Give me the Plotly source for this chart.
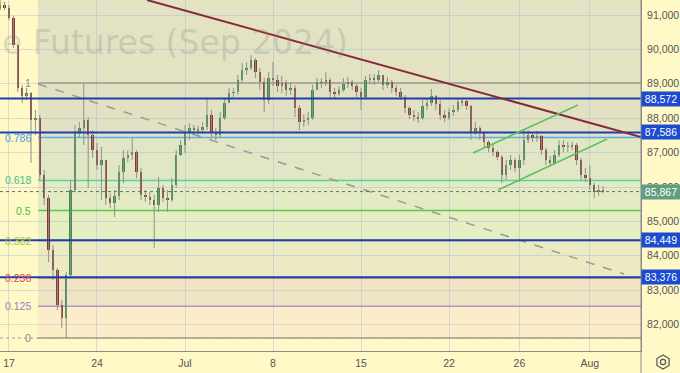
import math
import plotly.graph_objects as go

# ---------------- data ----------------
first_open = 91200
closes = [91290, 91200, 90910, 90130, 88880, 88645, 88735, 87950, 88005, 86350,
          85680, 84170, 83585, 82570, 82190, 83440, 85915, 87600, 87715, 87950,
          87510, 87075, 86640, 86785, 85680, 85535, 85740, 86435, 86845, 86930,
          87015, 86435, 85770, 85710, 85620, 85475, 85970, 85680, 85620, 86060,
          86930, 87220, 87600, 87715, 87655, 87655, 87745, 88095, 87600, 87510,
          88005, 88440, 88735, 88760, 89110, 89400, 89460, 89690, 89345, 89050,
          88530, 89170, 89110, 88935, 89025, 88820, 88880, 88295, 87890, 87950,
          88005, 88820, 89050, 89025, 89110, 88760, 88705, 88820, 88995, 89050,
          88935, 88760, 88615, 89110, 89170, 89110, 89255, 88965, 89050, 88880,
          88760, 88615, 88295, 88095, 88035, 88005, 88355, 88440, 88645, 88415,
          88095, 88005, 88180, 88240, 88470, 88500, 88355, 87600, 87715, 87570,
          87310, 87135, 87015, 86870, 86350, 86640, 86785, 86550, 86785, 87365,
          87510, 87425, 87485, 87075, 86785, 86700, 86930, 87220, 87165, 87165,
          87220, 86785, 86350, 86260, 86060, 85855, 85915, 85867]
highs = [91420, 91380, 91290, 90970, 90130, 88965, 88880, 88760, 88240, 88095,
         86495, 85770, 84315, 83645, 82715, 83530, 86205, 87800, 87890, 89023,
         88035, 87655, 87280, 87165, 86785, 85825, 85915, 86640, 87075, 87075,
         87425, 87075, 86550, 85915, 85855, 85770, 86290, 86060, 85915, 86260,
         87075, 87365, 87800, 87860, 87800, 87775, 87890, 88585, 88240, 87715,
         88180, 88585, 88880, 88880, 89255, 89605, 89635, 89835, 89750, 89460,
         89170, 89345, 89635, 89255, 89225, 89110, 89050, 88965, 88385, 88120,
         88180, 88965, 89170, 89170, 89345, 89170, 88880, 88935, 89170, 89200,
         89110, 88995, 88880, 89225, 89285, 89285, 89400, 89255, 89200, 89110,
         88965, 88880, 88675, 88355, 88240, 88180, 88530, 88585, 88850, 88675,
         88530, 88240, 88295, 88385, 88585, 88585, 88530, 88385, 87890, 87775,
         87600, 87365, 87250, 87075, 86930, 86785, 86930, 86845, 86930, 87655,
         87655, 87570, 87630, 87510, 87135, 86900, 87075, 87365, 87365, 87310,
         87310, 87280, 86845, 86550, 86640, 86115, 86060, 86030]
lows = [91145, 91145, 90855, 90040, 88760, 88440, 88530, 86700, 87510, 86205,
        85475, 83820, 83295, 82425, 81900, 81610, 83355, 85855, 87425, 87220,
        85970, 86845, 86495, 85620, 85475, 85390, 85130, 85620, 86115, 86725,
        86785, 86260, 85620, 85565, 85475, 84225, 85275, 85565, 85275, 85565,
        85970, 86900, 86990, 87365, 87510, 87485, 87540, 87655, 87425, 87365,
        87425, 87950, 88440, 88615, 88675, 89050, 89255, 89400, 89170, 88820,
        88180, 88415, 88935, 88760, 88735, 88645, 88675, 88035, 87655, 87745,
        87800, 87950, 88820, 88880, 88935, 88615, 88585, 88645, 88760, 88880,
        88820, 88615, 88240, 88585, 88995, 88965, 89050, 88820, 88880, 88735,
        88645, 88530, 88150, 87975, 87920, 87860, 87950, 88240, 88355, 88240,
        87950, 87890, 87950, 88065, 88180, 88355, 88240, 87365, 87510, 87365,
        87165, 87015, 86900, 86785, 86115, 86205, 86495, 86435, 86145, 86640,
        87280, 87310, 87310, 86930, 86640, 86580, 86640, 86870, 87015, 87015,
        87075, 86640, 86205, 86145, 85915, 85680, 85740, 85825]
bars_per_day = 4
first_bar_day = -0.5          # trading-day index of the first bar (17 Jun = 0)

tick_days = [0, 5, 10, 15, 20, 25, 29, 33]
tick_labels = ['17', '24', 'Jul', '8', '15', '22', '26', 'Aug']
price_ticks = [82000, 83000, 84000, 85000, 86000, 87000, 88000, 89000, 90000, 91000]

fib_low = 81610
fib_high = 89023
fib_start_day = 1.65
fib_levels = [0, 0.125, 0.236, 0.382, 0.5, 0.618, 0.786, 1]
fib_labels = ['0', '0.125', '0.236', '0.382', '0.5', '0.618', '0.786', '1']
fib_line_colors = ['#9c9c92', '#a996cc', '#d9534f', '#a8c83c', '#5cc84a', '#55d49e', '#5aaee6', '#9c9c8e']
fib_text_colors = ['#8a8a8a', '#9480c8', '#e04444', '#a4c83a', '#46c03e', '#3cc48c', '#4a9ee0', '#8a8a8a']
fib_band_colors = ['#fcedc8', '#efe5c4', '#ebeac3', '#e6eec4', '#e3ebc3', '#e1e6c4', '#e2e2c3', '#e3e2c3']

key_levels = [88572, 87586, 84449, 83376]
last_price = 85867

trend_days = [7.84, 35.91]
trend_prices = [91436, 87453]
dashed_days = [1.65, 34.94]
dashed_prices = [88994, 83471]
channel_up_days = [26.36, 32.33]
channel_up_prices = [86988, 88384]
channel_lo_days = [27.78, 33.98]
channel_lo_prices = [85913, 87395]

watermark = 'e Futures (Sep 2024)'

# ---------------- figure ----------------
W, H = 680, 373
ML, MR, MT, MB = 0, 39, 0, 22
PW, PH = W - ML - MR, H - MT - MB
x_range = [-0.511, 35.909]
y_range = [81233, 91436]

UP, DOWN, WICK = '#3f8c52', '#8a3434', '#8e9088'
FONT = 'Liberation Sans, Arial, sans-serif'

n = len(closes)
xs = [first_bar_day + i / bars_per_day for i in range(n)]
opens = [first_open] + closes[:-1]

wx, wy = [], []
for x, h, l in zip(xs, highs, lows):
    wx += [x, x, None]
    wy += [l, h, None]

base = [min(o, c) for o, c in zip(opens, closes)]
body = [max(abs(c - o), 18) for o, c in zip(opens, closes)]
bcol = [UP if c >= o else DOWN for o, c in zip(opens, closes)]

fig = go.Figure()
fig.add_trace(go.Scatter(x=wx, y=wy, mode='lines', line=dict(color=WICK, width=1),
                         hoverinfo='skip', showlegend=False))
fig.add_trace(go.Bar(x=xs, y=body, base=base, width=0.55 / bars_per_day,
                     marker=dict(color=bcol, line=dict(width=0)), showlegend=False))

shapes = []
fib_prices = [fib_low + lv * (fib_high - fib_low) for lv in fib_levels]
band_edges = fib_prices + [y_range[1] + 500]
for k in range(1, len(band_edges)):
    shapes.append(dict(type='rect', xref='x', yref='y', x0=fib_start_day, x1=x_range[1] + 1,
                       y0=band_edges[k - 1], y1=band_edges[k], fillcolor=fib_band_colors[k - 1],
                       line=dict(width=0), layer='below'))
# fib 0 dotted extension
shapes.append(dict(type='line', xref='paper', yref='y', x0=0, x1=1, y0=fib_prices[0], y1=fib_prices[0],
                   line=dict(color='#9a9a9a', width=1, dash='dot'), layer='between'))
for p, c in zip(fib_prices, fib_line_colors):
    shapes.append(dict(type='line', xref='x', yref='y', x0=fib_start_day, x1=x_range[1] + 1,
                       y0=p, y1=p, line=dict(color=c, width=1.5), layer='between'))
# last price dotted
shapes.append(dict(type='line', xref='paper', yref='y', x0=0, x1=1, y0=last_price, y1=last_price,
                   line=dict(color='#6a6a6a', width=1, dash='dot'), layer='above'))
# key levels
for p in key_levels:
    shapes.append(dict(type='line', xref='paper', yref='y', x0=0, x1=1, y0=p, y1=p,
                       line=dict(color='#1c3db0', width=2), layer='above'))
# trend lines
shapes.append(dict(type='line', xref='x', yref='y', x0=dashed_days[0], x1=dashed_days[1],
                   y0=dashed_prices[0], y1=dashed_prices[1],
                   line=dict(color='#9a9a94', width=1.5, dash='dash'), layer='between'))
shapes.append(dict(type='line', xref='x', yref='y', x0=trend_days[0], x1=trend_days[1],
                   y0=trend_prices[0], y1=trend_prices[1],
                   line=dict(color='#862a3a', width=2), layer='above'))
for dd, pp in [(channel_up_days, channel_up_prices), (channel_lo_days, channel_lo_prices)]:
    shapes.append(dict(type='line', xref='x', yref='y', x0=dd[0], x1=dd[1], y0=pp[0], y1=pp[1],
                       line=dict(color='#5cc25c', width=1.6), layer='above'))
# right separator through x-axis area
shapes.append(dict(type='line', xref='paper', yref='paper', x0=1, x1=1, y0=-MB / PH, y1=1,
                   line=dict(color='#8a8a8a', width=1), layer='above'))

# settings icon (hexagon + circle) bottom right
cx, cy, r = 663, 362, 7
def to_paper(px, py):
    return (px - ML) / PW, (MT + PH - py) / PH
pts = []
for k in range(6):
    a = math.radians(90 + 60 * k)
    pts.append(to_paper(cx + r * math.cos(a), cy - r * math.sin(a)))
path = 'M ' + ' L '.join(f'{x:.5f},{y:.5f}' for x, y in pts) + ' Z'
shapes.append(dict(type='path', xref='paper', yref='paper', path=path,
                   line=dict(color='#555555', width=1.2), layer='above'))
c0 = to_paper(cx - 2.6, cy - 2.6)
c1 = to_paper(cx + 2.6, cy + 2.6)
shapes.append(dict(type='circle', xref='paper', yref='paper', x0=c0[0], x1=c1[0], y0=c1[1], y1=c0[1],
                   line=dict(color='#555555', width=1.2), layer='above'))

annotations = []
# watermark
annotations.append(dict(xref='paper', yref='paper', x=350 / PW, y=(PH - 43) / PH,
                        xanchor='right', yanchor='middle', text=watermark, showarrow=False,
                        font=dict(family='DejaVu Sans, sans-serif', size=33,
                                  color='rgba(130,130,120,0.26)')))
# fib labels
for p, t, c in zip(fib_prices, fib_labels, fib_text_colors):
    annotations.append(dict(xref='paper', yref='y', x=33 / PW, y=p, xanchor='right', yanchor='middle',
                            text=t, showarrow=False, font=dict(family=FONT, size=10.5, color=c)))
# price boxes
for p in key_levels:
    annotations.append(dict(xref='paper', yref='y', x=1, y=p, xanchor='left', yanchor='middle',
                            text=f'{p:,}', showarrow=False, bgcolor='#1a4bd0', width=34, height=10,
                            borderpad=2, font=dict(family=FONT, size=10.5, color='white')))
annotations.append(dict(xref='paper', yref='y', x=1, y=last_price, xanchor='left', yanchor='middle',
                        text=f'{last_price:,}', showarrow=False, bgcolor='#5f9e7e', width=34, height=10,
                        borderpad=2, font=dict(family=FONT, size=10.5, color='white')))

BG = '#fef9c6'
fig.update_layout(
    width=W, height=H, autosize=False, template='none',
    margin=dict(l=ML, r=MR, t=MT, b=MB, pad=0),
    paper_bgcolor=BG, plot_bgcolor=BG, showlegend=False, bargap=0,
    shapes=shapes, annotations=annotations,
    xaxis=dict(range=x_range, tickvals=tick_days, ticktext=tick_labels, showgrid=True,
               gridcolor='rgba(170,185,210,0.45)', gridwidth=1, zeroline=False, automargin=False,
               showline=True, linecolor='#8a8a8a', linewidth=1, ticks='outside', ticklen=2,
               tickcolor='rgba(0,0,0,0)', fixedrange=True,
               tickfont=dict(family=FONT, size=10.5, color='#555555')),
    yaxis=dict(range=y_range, side='right', tickvals=price_ticks, tickformat=',d', showgrid=True,
               gridcolor='rgba(170,185,210,0.45)', gridwidth=1, zeroline=False, automargin=False,
               showline=True, linecolor='#8a8a8a', linewidth=1, ticks='outside', ticklen=3,
               tickcolor='rgba(0,0,0,0)',
               tickfont=dict(family=FONT, size=10.5, color='#555555')),
)

fig.write_html('out.html', config={'displayModeBar': False},
               post_script="document.body.style.margin='0';document.body.style.padding='0';"
                           "document.body.style.overflow='hidden';")
